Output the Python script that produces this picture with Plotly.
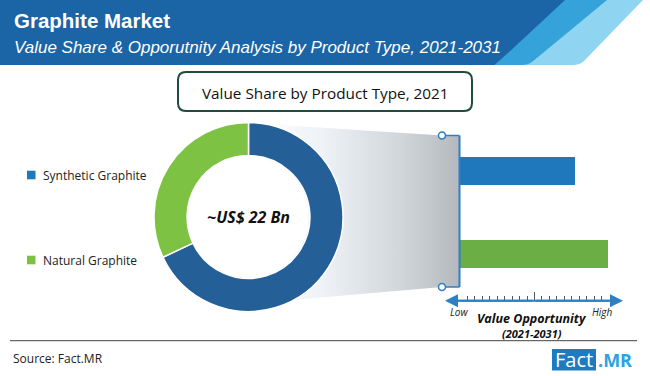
import plotly.graph_objects as go

# ---------------- data ----------------
categories = ["Synthetic Graphite", "Natural Graphite"]
value_share_2021 = [68, 32]            # % share of ~US$ 22 Bn (donut)
value_opportunity = [7.7, 9.9]         # relative opportunity, Low (0) .. High (10)
total_label = "~US$ 22 Bn"
axis_low, axis_high = "Low", "High"

donut_colors = ["#245f98", "#7dc242"]
bar_colors = ["#1f78bc", "#6cae46"]
legend_colors = ["#1f78bc", "#7cc142"]

W, H = 650, 376
BLUE_LINE = "#2f7fc1"


def px(x):
    return x / W


def py(y):
    return 1 - y / H


fig = go.Figure()

# gradient "zoom" band between donut and bars (decorative, pixel overlay axes)
fig.add_trace(go.Scatter(
    x=[248.5, 442, 459, 459, 442, 292, 248.5, 248.5],
    y=[123, 135.5, 135.5, 287, 287, 300, 217, 123],
    xaxis="x3", yaxis="y3", mode="lines", line=dict(width=0),
    fill="toself",
    fillgradient=dict(type="horizontal", start=250, stop=459,
                      colorscale=[[0, "#ffffff"], [0.35, "#eef2f6"],
                                  [0.7, "#d3d8dd"], [1, "#b5b9be"]]),
    hoverinfo="skip", showlegend=False))

# donut
fig.add_trace(go.Pie(
    labels=categories, values=value_share_2021, hole=0.65, sort=False,
    direction="clockwise", rotation=0, textinfo="none",
    marker=dict(colors=donut_colors, line=dict(color="white", width=1.5)),
    domain=dict(x=[px(154), px(343)], y=[py(311.5), py(122.5)]),
    showlegend=False))

# opportunity bars
for cat, val, col in zip(categories, value_opportunity, bar_colors):
    fig.add_trace(go.Bar(
        x=[val], y=[cat], orientation="h", marker=dict(color=col, line=dict(width=0)),
        width=0.343, showlegend=False, xaxis="x", yaxis="y"))

shapes = []
annotations = []

# header band
shapes.append(dict(type="path", xref="x3", yref="y3", layer="below",
                   path="M 560 0 L 643 0 L 584 61 Q 580 65 573 65 L 500 65 Z",
                   fillcolor="#8fd4f0", line=dict(width=0)))
shapes.append(dict(type="path", xref="x3", yref="y3", layer="below",
                   path="M 560 0 L 607 0 L 532 62 Q 528 65 522 65 L 495 65 Z",
                   fillcolor="#35a2d9", line=dict(width=0)))
shapes.append(dict(type="path", xref="x3", yref="y3", layer="below",
                   path="M 0 0 L 565 0 L 495 65 L 0 65 Z",
                   fillcolor="#1b64a6", line=dict(width=0)))

# box title (rounded rectangle)
x0, x1, y0, y1, r = 178, 472, 72, 111, 8
shapes.append(dict(type="path", xref="x3", yref="y3", layer="below",
                   path=(f"M {x0+r} {y0} L {x1-r} {y0} Q {x1} {y0} {x1} {y0+r} "
                         f"L {x1} {y1-r} Q {x1} {y1} {x1-r} {y1} L {x0+r} {y1} "
                         f"Q {x0} {y1} {x0} {y1-r} L {x0} {y0+r} Q {x0} {y0} {x0+r} {y0} Z"),
                   fillcolor="white", line=dict(color="#1f4c3c", width=2)))

# white disc covering the donut hole
shapes.append(dict(type="circle", xref="x3", yref="y3", layer="above",
                   x0=248.5 - 60, x1=248.5 + 60, y0=217 - 60, y1=217 + 60,
                   fillcolor="white", line=dict(width=0)))

# bracket at bar baseline
shapes.append(dict(type="line", xref="x3", yref="y3", layer="above",
                   x0=459.5, x1=459.5, y0=135.5, y1=287, line=dict(color=BLUE_LINE, width=2)))
for yy in (135.5, 287):
    shapes.append(dict(type="line", xref="x3", yref="y3", layer="above",
                       x0=442, x1=459.5, y0=yy, y1=yy, line=dict(color=BLUE_LINE, width=1.5)))
    shapes.append(dict(type="circle", xref="x3", yref="y3", layer="above",
                       x0=438.5, x1=445.5, y0=yy - 3.5, y1=yy + 3.5,
                       fillcolor="white", line=dict(color=BLUE_LINE, width=1.5)))

# value-opportunity axis line with arrows
shapes.append(dict(type="line", xref="x3", yref="y3", layer="above",
                   x0=450, x1=618, y0=300.7, y1=300.7, line=dict(color=BLUE_LINE, width=2)))
for tip, tail in ((445, 534), (623, 534)):
    annotations.append(dict(x=tip, y=300.7, ax=tail, ay=300.7, xref="x3", yref="y3",
                            axref="x3", ayref="y3", text="", showarrow=True,
                            arrowhead=2, arrowsize=1.3, arrowwidth=2, arrowcolor=BLUE_LINE))

# legend (custom, left side)
for cat, col, yy in zip(categories, legend_colors, (175, 260)):
    shapes.append(dict(type="rect", xref="x3", yref="y3", x0=27, x1=35.5, y0=yy - 4.3,
                       y1=yy + 4.3, fillcolor=col, line=dict(width=0)))
    annotations.append(dict(x=41, y=yy, xref="x3", yref="y3", text=cat, showarrow=False,
                            xanchor="left", yanchor="middle",
                            font=dict(family="Open Sans", size=12, color="#222222")))

# footer line
shapes.append(dict(type="line", xref="x3", yref="y3", x0=10, x1=637, y0=340.7, y1=340.7,
                   line=dict(color="#444444", width=1)))
# logo box
shapes.append(dict(type="rect", xref="x3", yref="y3", x0=552, x1=596, y0=349, y1=370.5,
                   fillcolor="#1f7bbf", line=dict(width=0)))

annotations += [
    dict(x=12, y=20, text="<b>Graphite Market</b>", xanchor="left",
         font=dict(family="Liberation Sans", size=20.5, color="white")),
    dict(x=12, y=47, text="<i>Value Share &amp; Opporutnity Analysis by Product Type, 2021-2031</i>",
         xanchor="left", font=dict(family="Liberation Sans", size=17, color="white")),
    dict(x=325, y=92.5, text="Value Share by Product Type, 2021",
         font=dict(family="Open Sans", size=15.3, color="#111111")),
    dict(x=248.5, y=217, text=f"<b><i>{total_label}</i></b>",
         font=dict(family="Open Sans", size=16, color="#111111")),
    dict(x=459, y=312, text=f"<i>{axis_low}</i>",
         font=dict(family="Open Sans", size=10, color="#222222")),
    dict(x=602, y=312, text=f"<i>{axis_high}</i>",
         font=dict(family="Open Sans", size=10, color="#222222")),
    dict(x=532, y=318.5, text="<b><i>Value Opportunity</i></b>",
         font=dict(family="Open Sans", size=12.5, color="#111111")),
    dict(x=532, y=333, text="<b><i>(2021-2031)</i></b>",
         font=dict(family="Open Sans", size=11, color="#111111")),
    dict(x=11, y=358, text="Source: Fact.MR", xanchor="left",
         font=dict(family="Open Sans", size=12, color="#222222")),
    dict(x=574, y=359.5, text="Fact",
         font=dict(family="Open Sans", size=20, color="white")),
    dict(x=596, y=359.5, text="<b>.MR</b>", xanchor="left",
         font=dict(family="Open Sans", size=18, color="#2aa3df")),
]
for a in annotations:
    a.setdefault("xref", "x3")
    a.setdefault("yref", "y3")
    a.setdefault("showarrow", False)

fig.update_layout(
    width=W, height=H, margin=dict(l=0, r=0, t=0, b=0),
    paper_bgcolor="white", plot_bgcolor="rgba(0,0,0,0)",
    showlegend=False, bargap=0,
    xaxis=dict(domain=[px(460), px(609)], range=[0, 10], anchor="free",
               position=py(300.7), showgrid=False, zeroline=False, showline=False,
               showticklabels=False, ticks="inside", tick0=0, dtick=5, ticklen=9,
               tickwidth=1.2, tickcolor="#4a5a6a",
               minor=dict(dtick=0.5, ticks="inside", ticklen=5, tickwidth=1,
                          tickcolor="#4a5a6a", showgrid=False)),
    yaxis=dict(domain=[py(294.75), py(129.75)], type="category",
               categoryorder="array", categoryarray=categories, range=[1.5, -0.5],
               visible=False, anchor="x"),
    xaxis3=dict(domain=[0, 1], range=[0, W], visible=False, anchor="y3",
                fixedrange=True),
    yaxis3=dict(domain=[0, 1], range=[H, 0], visible=False, anchor="x3",
                fixedrange=True),
    shapes=shapes, annotations=annotations,
)

fig.write_html("out.html", config={"displayModeBar": False},
               post_script="document.body.style.margin='0';")
